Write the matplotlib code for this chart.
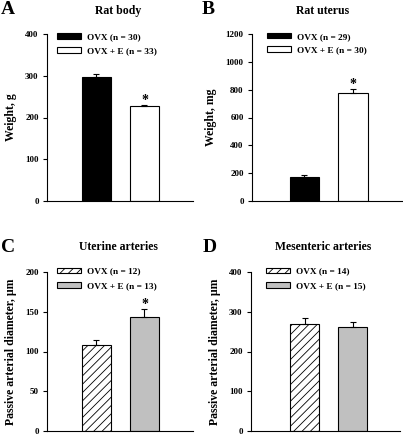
import matplotlib
matplotlib.use("Agg")
import matplotlib.pyplot as plt
import numpy as np

plt.rcParams['font.family'] = ['Liberation Serif', 'DejaVu Serif']
plt.rcParams['font.weight'] = 'bold'
plt.rcParams['hatch.linewidth'] = 0.6

# Data
groups = ["OVX", "OVX + E"]
body_vals = [297, 227]
body_err = [7, 3]
body_n = [30, 33]
uterus_vals = [175, 776]
uterus_err = [10, 29]
uterus_n = [29, 30]
uta_vals = [108, 143]
uta_err = [6, 11]
uta_n = [12, 13]
mes_vals = [270, 262]
mes_err = [14, 11]
mes_n = [14, 15]

W, H = 403, 442
fig = plt.figure(figsize=(W/100, H/100), dpi=100)

def ax_px(l, r, t, b):
    return fig.add_axes([l/W, (H-b)/H, (r-l)/W, (b-t)/H])

def panel(ax, vals, err, ns, ymax, ystep, ylabel, styles, star, xl, legx, legy, lsp):
    x = np.arange(len(vals))
    for i in range(len(vals)):
        fc, hatch = styles[i]
        ax.bar(x[i], vals[i], width=0.6, color=fc, edgecolor='black', linewidth=0.8,
               hatch=hatch, label=f"{groups[i]} (n = {ns[i]})", zorder=2)
        ax.errorbar(x[i], vals[i], yerr=[[0], [err[i]]], fmt='none', ecolor='black',
                    elinewidth=0.8, capsize=2.5, capthick=0.8, zorder=3)
    if star is not None:
        ax.annotate('*', xy=(x[star], vals[star] + err[star]), xytext=(0, 3),
                    textcoords='offset points', ha='center', va='center',
                    fontsize=10, fontweight='bold')
    ax.set_xlim(*xl)
    ax.set_ylim(0, ymax)
    ax.set_yticks(np.arange(0, ymax + 1, ystep))
    ax.set_xticks([])
    for s in ['top', 'right']:
        ax.spines[s].set_visible(False)
    ax.spines['left'].set_linewidth(0.8)
    ax.spines['bottom'].set_linewidth(0.8)
    ax.tick_params(axis='y', direction='out', length=3, width=0.8, labelsize=6.5, pad=3)
    for lab in ax.get_yticklabels():
        lab.set_fontweight('bold')
    ax.set_ylabel(ylabel, fontsize=8.5, fontweight='bold', labelpad=6)
    ax.legend(loc='upper left', bbox_to_anchor=(legx, legy), frameon=False,
              handlelength=2.6, handleheight=0.55, handletextpad=0.65, labelspacing=lsp,
              borderpad=0, borderaxespad=0,
              prop={'weight': 'bold', 'size': 6.7})
    return ax

axA = ax_px(47, 193, 34, 201)
panel(axA, body_vals, body_err, body_n, 400, 100, 'Weight, g',
      [('black', None), ('white', None)], 1, (-1.03, 2.01), 0.068, 1.003, 0.6)
axB = ax_px(252, 402, 34, 201)
panel(axB, uterus_vals, uterus_err, uterus_n, 1200, 200, 'Weight, mg',
      [('black', None), ('white', None)], 1, (-1.08, 2.01), 0.1, 1.008, 0.6)
axC = ax_px(47, 193, 272, 431)
panel(axC, uta_vals, uta_err, uta_n, 200, 50, 'Passive arterial diameter, µm',
      [('white', '////'), ('#c0c0c0', None)], 1, (-1.03, 2.01), 0.068, 1.028, 0.7)
axD = ax_px(251, 400, 272, 431)
panel(axD, mes_vals, mes_err, mes_n, 400, 100, 'Passive arterial diameter, µm',
      [('white', '////'), ('#c0c0c0', None)], None, (-1.12, 1.98), 0.1, 1.028, 0.7)

def ftext(x, y, s, size, ha='center'):
    fig.text(x/W, 1 - y/H, s, ha=ha, va='center', fontsize=size, fontweight='bold')

ftext(118, 11, 'Rat body', 8.5)
ftext(323, 11, 'Rat uterus', 8.5)
ftext(118, 247, 'Uterine arteries', 8.5)
ftext(323, 247, 'Mesenteric arteries', 8.5)
ftext(1, 10, 'A', 14, ha='left')
ftext(202, 10, 'B', 14, ha='left')
ftext(1, 247, 'C', 14, ha='left')
ftext(203, 247, 'D', 14, ha='left')

fig.savefig('out.png', dpi=100)
